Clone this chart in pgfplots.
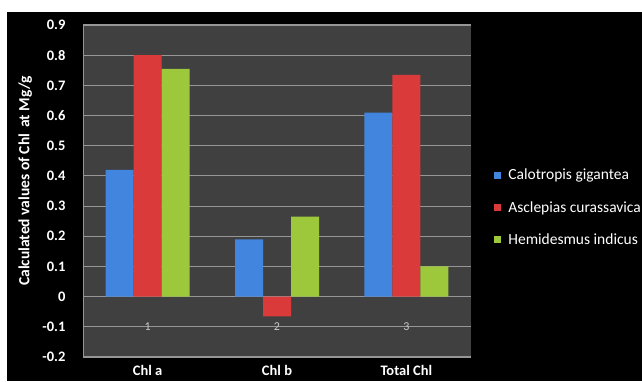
\documentclass[border=0pt]{standalone}
\usepackage{pgfplots}
\pgfplotsset{compat=1.18}
\usepackage{fontspec}
\setmainfont{Carlito}

\definecolor{plotbg}{RGB}{64,64,64}
\definecolor{gridc}{RGB}{150,150,150}
\definecolor{cblue}{RGB}{66,133,222}
\definecolor{cred}{RGB}{218,58,58}
\definecolor{cgreen}{RGB}{158,200,60}
\definecolor{numgray}{RGB}{200,200,200}

\begin{document}
\begin{tikzpicture}[x=1pt,y=1pt]
  % fixed page size; the frame cuts off anything running past its edge
  \useasboundingbox (0,0) rectangle (642,381);
  \clip (0,0) rectangle (642,381);
  \fill[white] (0,0) rectangle (642,381);
  \fill[black] (7,0) rectangle (642,369);

  \begin{axis}[
    at={(83pt,24pt)}, anchor=south west,
    scale only axis, width=388pt, height=332pt,
    xmin=0.5, xmax=3.5, ymin=-0.2, ymax=0.9,
    axis background/.style={fill=plotbg},
    ybar=0pt, bar width=28pt,
    axis lines*=left,
    axis line style={gridc, line width=1pt},
    ymajorgrids, major grid style={gridc, line width=1.1pt},
    ytick={-0.2,-0.1,0,0.1,0.2,0.3,0.4,0.5,0.6,0.7,0.8,0.9},
    yticklabel style={/pgf/number format/fixed, /pgf/number format/precision=1,
      /pgf/number format/assume math mode=true,
      font=\bfseries\fontsize{14.5}{16}\selectfont, text=white, xshift=-14pt},
    major tick length=4pt,
    ytick style={gridc, line width=1pt},
    ytick pos=left,
    xtick={1,2,3},
    xticklabels={Chl a, Chl b, Total Chl},
    xtick style={draw=none},
    xticklabel style={font=\bfseries\fontsize{14.5}{16}\selectfont, text=white, yshift=-1pt},
    ylabel={Calculated values of Chl\, at Mg/g},
    ylabel style={at={(axis description cs:-0.149,0.53)}, anchor=center,
      font=\bfseries\fontsize{15.5}{18}\selectfont, text=white},
    legend style={at={(axis description cs:1.052,0.45)}, anchor=west,
      draw=none, fill=none, text=white,
      font=\fontsize{15.5}{17}\selectfont, row sep=16pt,
      /tikz/every odd column/.append style={column sep=5pt}},
    legend cell align=left,
    legend image code/.code={\fill[#1] (0pt,-3.5pt) rectangle (7pt,3.5pt);},
    clip=false,
  ]
    \addplot[draw=none, fill=cblue]
      coordinates {(1,0.42) (2,0.19) (3,0.61)};
    \addplot[draw=none, fill=cred]
      coordinates {(1,0.80) (2,-0.065) (3,0.735)};
    \addplot[draw=none, fill=cgreen]
      coordinates {(1,0.755) (2,0.265) (3,0.10)};
    \legend{Calotropis gigantea, Asclepias curassavica, Hemidesmus indicus}

    % category index numbers along the -0.1 line
    \node[text=numgray, font=\fontsize{12}{14}\selectfont] at (axis cs:1,-0.1) {1};
    \node[text=numgray, font=\fontsize{12}{14}\selectfont] at (axis cs:2,-0.1) {2};
    \node[text=numgray, font=\fontsize{12}{14}\selectfont] at (axis cs:3,-0.1) {3};
  \end{axis}
\end{tikzpicture}
\end{document}
